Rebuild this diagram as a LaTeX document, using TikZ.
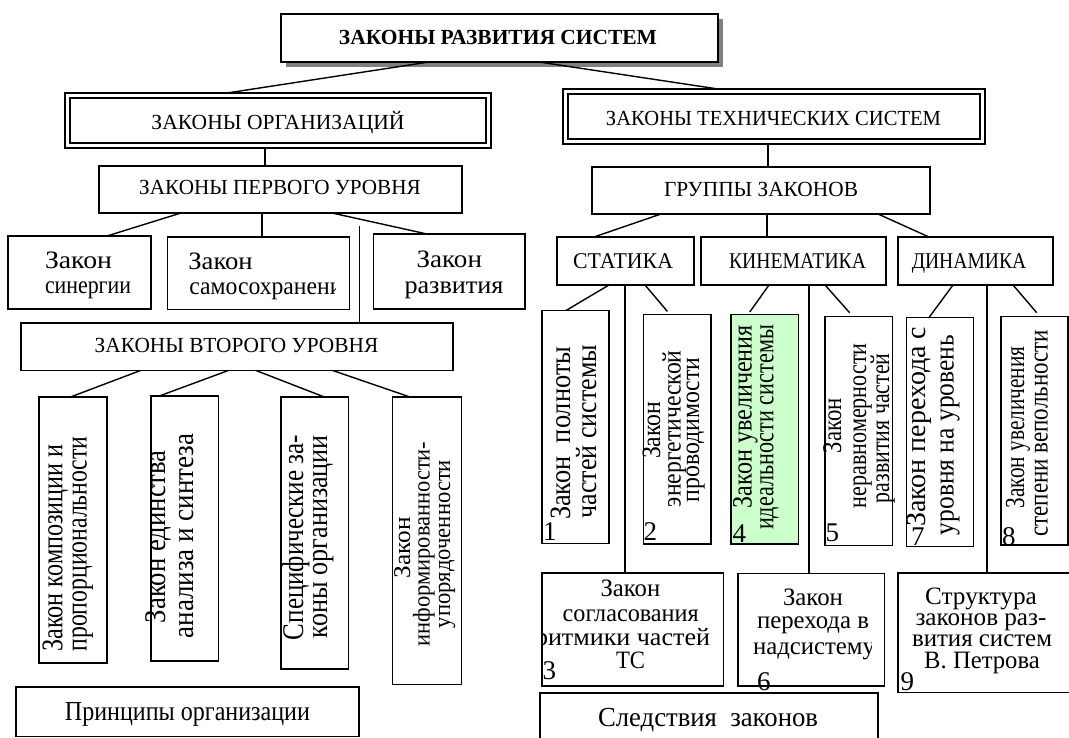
\documentclass[tikz,border=0pt]{standalone}
\usepackage{fontspec}
\setmainfont{Liberation Serif}
\usepackage{graphicx}
\definecolor{lgreen}{RGB}{204,255,204}
\definecolor{shadowgray}{RGB}{128,128,128}
\newcommand{\rs}[3]{\resizebox{#2pt}{\height}{\fontsize{#1}{#1}\selectfont #3}}
\newcommand{\bx}[6]{\node[#5, minimum width={#3-#1}, minimum height={#4-#2}] (#6) at ({(#1+#3)/2},{(#2+#4)/2}) {};}
\begin{document}
\begin{tikzpicture}[x=1pt,y=-1pt,
  box/.style={draw, line width=1.6pt, inner sep=0pt, outer sep=0pt, fill=white},
  dbox/.style={box, line width=2.4pt},
  inbox/.style={line width=1.1pt},
  gbox/.style={box, fill=lgreen},
  conn/.style={line width=1.4pt},
  ln/.style={inner sep=0pt, outer sep=0pt, anchor=base},
  rln/.style={inner sep=0pt, outer sep=0pt, anchor=base, rotate=90},
  num/.style={inner sep=0pt, outer sep=0pt, anchor=base west, font=\fontsize{27}{27}\selectfont}]
\useasboundingbox (0,0) rectangle (1069,738);
\clip (0,0) rectangle (1069,738);
% ---------- boxes ----------
\fill[shadowgray] (286,19) rectangle (723,67);
\bx{281}{14}{718}{62}{box}{top}
\bx{65}{93}{491}{148}{dbox}{org}
\draw[inbox] ([shift={(5,5)}]org.north west) rectangle ([shift={(-5,-5)}]org.south east);
\bx{563}{89}{985}{144}{dbox}{tech}
\draw[inbox] ([shift={(5,5)}]tech.north west) rectangle ([shift={(-5,-5)}]tech.south east);
\bx{99}{166}{462}{213}{box}{p1}
\bx{592}{167}{930}{214}{box}{gr}
\bx{8}{236}{151}{309}{box}{syn}
\bx{167.5}{237}{349.5}{309.5}{box}{sam}
\bx{373.5}{234}{525}{309}{box}{raz}
\bx{21}{323}{453}{370.5}{box}{p2}
\bx{39}{397}{107}{663}{box}{L1}
\bx{151}{396}{218.5}{661}{box}{L2}
\bx{281}{397}{348.5}{669}{box}{L3}
\bx{392.5}{397}{461.5}{684.5}{box}{L4}
\bx{16}{687}{359}{736.5}{box}{pri}
\bx{557}{237}{694}{285}{box}{stat}
\bx{701}{237}{886}{285}{box}{kin}
\bx{898}{237}{1053}{285}{box}{din}
\bx{542}{310.5}{609}{543.5}{box}{R1}
\bx{643.5}{314.5}{711}{544}{box}{R2}
\bx{731}{314.5}{798.5}{544}{gbox}{R4}
\bx{825}{316.5}{892.5}{545.5}{box}{R5}
\bx{906.5}{317.5}{973.5}{546.5}{box}{R7}
\bx{1001}{316.5}{1068}{545}{box}{R8}
\bx{542}{573}{723.5}{686}{box}{B3}
\bx{738}{573.5}{884.5}{686}{box}{B6}
\bx{898}{573}{1080}{692.5}{box}{B9}
\bx{540}{693}{878}{750}{box}{sled}
% ---------- connectors ----------
\coordinate (vtop) at (359.5,226);
\draw[conn] ([xshift=148pt]top.south west) -- ([xshift=162pt]org.north west);
\draw[conn] ([xshift=258pt]top.south west) -- ([xshift=155pt]tech.north west);
\draw[conn] ([xshift=200pt]org.south west) -- ([xshift=166pt]p1.north west);
\draw[conn] ([xshift=205pt]tech.south west) -- ([xshift=176pt]gr.north west);
\draw[conn] ([xshift=82pt]p1.south west) -- ([xshift=99pt]syn.north west);
\draw[conn] ([xshift=163pt]p1.south west) -- ([xshift=94.5pt]sam.north west);
\draw[conn] ([xshift=233pt]p1.south west) -- ([xshift=53.5pt]raz.north west);
\draw[conn] (vtop) -- ([xshift=338.5pt]p2.north west);
\draw[conn] ([xshift=119.5pt]p2.south west) -- ([xshift=31.5pt]L1.north west);
\draw[conn] ([xshift=207.3pt]p2.south west) -- ([xshift=8.3pt]L2.north west);
\draw[conn] ([xshift=235pt]p2.south west) -- ([xshift=43.3pt]L3.north west);
\draw[conn] ([xshift=311.7pt]p2.south west) -- ([xshift=17.5pt]L4.north west);
\draw[conn] ([xshift=69pt]gr.south west) -- ([xshift=37pt]stat.north west);
\draw[conn] ([xshift=175pt]gr.south west) -- ([xshift=66pt]kin.north west);
\draw[conn] ([xshift=286pt]gr.south west) -- ([xshift=31pt]din.north west);
\draw[conn] ([xshift=52pt]stat.south west) -- ([xshift=24pt]R1.north west);
\draw[conn] ([xshift=68pt]stat.south west) -- ([xshift=83pt]B3.north west);
\draw[conn, shorten >=4pt] ([xshift=88pt]stat.south west) -- ([xshift=26.5pt]R2.north west);
\draw[conn, shorten >=3pt] ([xshift=68pt]kin.south west) -- ([xshift=17pt]R4.north west);
\draw[conn] ([xshift=108pt]kin.south west) -- ([xshift=71pt]B6.north west);
\draw[conn, shorten >=5pt] ([xshift=124pt]kin.south west) -- ([xshift=28pt]R5.north west);
\draw[conn] ([xshift=55pt]din.south west) -- ([xshift=22.5pt]R7.north west);
\draw[conn] ([xshift=89pt]din.south west) -- ([xshift=89pt]B9.north west);
\draw[conn, shorten >=5pt] ([xshift=115pt]din.south west) -- ([xshift=39pt]R8.north west);
% ---------- horizontal texts ----------
\node[ln] (t0) at (498,45) {\bfseries\rs{21.5}{318}{ЗАКОНЫ РАЗВИТИЯ СИСТЕМ}};
\node[ln] (torg) at (278,129.3) {\rs{21.5}{253}{ЗАКОНЫ ОРГАНИЗАЦИЙ}};
\node[ln] (ttech) at (773.5,126) {\rs{21.5}{335}{ЗАКОНЫ ТЕХНИЧЕСКИХ СИСТЕМ}};
\node[ln] (tp1) at (280,195) {\rs{21.5}{281.5}{ЗАКОНЫ ПЕРВОГО УРОВНЯ}};
\node[ln] (tgr) at (761,196.7) {\rs{21.5}{194}{ГРУППЫ ЗАКОНОВ}};
\node[ln] (tstat) at (623,268.3) {\rs{22.5}{100}{СТАТИКА}};
\node[ln] (tkin) at (797.5,268.3) {\rs{22.5}{137}{КИНЕМАТИКА}};
\node[ln] (tdin) at (969,268.3) {\rs{22.5}{114.5}{ДИНАМИКА}};
\node[ln] (tp2) at (236.5,352.7) {\rs{21.5}{283.6}{ЗАКОНЫ ВТОРОГО УРОВНЯ}};
\node[ln] (tpri) at (187.5,720) {\rs{27.5}{245}{Принципы организации}};
\node[ln] (tsled) at (708,726) {\rs{27.5}{220}{Следствия\ \ законов}};
\node[ln] (syn1) at (78.5,268.7) {\rs{25}{67}{Закон}};
\node[ln] (syn2) at (88,293.3) {\rs{25}{86}{синергии}};
\node[ln] (sam1) at (220.5,269.3) {\rs{25}{64.4}{Закон}};
\begin{scope}
\clip (sam.north west) rectangle ([xshift=-14.5pt]sam.south east);
\node[ln] (sam2) at (271.3,295) {\rs{25}{164}{самосохранения}};
\end{scope}
\node[ln] (raz1) at (449.3,267.5) {\rs{25}{65.3}{Закон}};
\node[ln] (raz2) at (454,294) {\rs{25}{99}{развития}};
\node[ln] (b3a) at (630.4,596) {\rs{25}{59.6}{Закон}};
\node[ln] (b3b) at (630.7,621.7) {\rs{25}{136}{согласования}};
\begin{scope}
\clip (B3.north west) rectangle (B3.south east);
\node[ln] (b3c) at (622.5,645) {\rs{25}{175}{ритмики частей}};
\end{scope}
\node[ln] (b3d) at (630.5,668.3) {\rs{25}{29}{ТС}};
\node[ln] (b6a) at (813,605) {\rs{25}{60}{Закон}};
\node[ln] (b6b) at (813,628.3) {\rs{25}{112}{перехода в}};
\begin{scope}
\clip (B6.north west) rectangle ([xshift=-13.5pt]B6.south east);
\node[ln] (b6c) at (814,654) {\rs{25}{122}{надсистему}};
\end{scope}
\node[ln] (b9a) at (981,604) {\rs{25}{111.6}{Структура}};
\node[ln] (b9b) at (981,625) {\rs{25}{131}{законов раз-}};
\node[ln] (b9c) at (982,646.7) {\rs{25}{140}{вития систем}};
\node[ln] (b9d) at (982,668.3) {\rs{25}{115.6}{В. Петрова}};
% ---------- rotated texts ----------
\node[rln] (l1a) at (62.3,548) {\rs{30}{207}{Закон композиции и}};
\node[rln] (l1b) at (86.7,544) {\rs{30}{215}{пропорциональности}};
\node[rln] (l2a) at (165,536.7) {\rs{30}{173}{Закон единства}};
\node[rln] (l2b) at (193.3,535.8) {\rs{30}{205}{анализа и синтеза}};
\node[rln] (l3a) at (303,537.5) {\rs{30}{205}{Специфические за-}};
\node[rln] (l3b) at (327,536.5) {\rs{30}{203}{коны организации}};
\node[rln] (l4a) at (410,547.5) {\rs{24}{61}{Закон}};
\node[rln] (l4b) at (429.5,544) {\rs{24}{205}{информированности-}};
\node[rln] (l4c) at (450,544) {\rs{24}{168}{упорядоченности}};
\node[rln] (r1a) at (570,433.3) {\rs{29.5}{173.3}{Закон\ \ полноты}};
\node[rln] (r1b) at (596,431.7) {\rs{29.5}{173.3}{частей системы}};
\node[rln] (r2a) at (660,430.3) {\rs{26.5}{57.3}{Закон}};
\node[rln] (r2b) at (680.7,428.7) {\rs{26.5}{156.7}{энергетической}};
\node[rln] (r2c) at (699,430) {\rs{26.5}{145}{проводимости}};
\node[rln] (r4a) at (751.7,416.7) {\rs{28}{183.3}{Закон увеличения}};
\node[rln] (r4b) at (773.3,427.5) {\rs{28}{205}{идеальности системы}};
\node[rln] (r5a) at (841,425.8) {\rs{27}{55}{Закон}};
\node[rln] (r5b) at (866,425.8) {\rs{27}{165}{неравномерности}};
\node[rln] (r5c) at (889,428.3) {\rs{27}{150}{развития частей}};
\node[rln] (r7a) at (925.5,426.7) {\rs{28}{200}{Закон перехода с}};
\node[rln] (r7b) at (953.5,435) {\rs{28}{200}{уровня на уровень}};
\node[rln] (r8a) at (1024,427.5) {\rs{27.5}{161.7}{Закон увеличения}};
\node[rln] (r8b) at (1047.5,433.3) {\rs{27.5}{206.7}{степени вепольности}};
% ---------- numbers ----------
\node[num] (n1) at (543,540) {1};
\node[num] (n2) at (643.5,540) {2};
\node[num] (n4) at (732.5,542.3) {4};
\node[num] (n5) at (825.5,541) {5};
\node[num] (n7) at (911,545.7) {7};
\node[num] (n8) at (1002,545) {8};
\node[num] (n3) at (542.5,679) {3};
\node[num] (n6) at (757,690) {6};
\node[num] (n9) at (900.5,690) {9};
\end{tikzpicture}
\end{document}
